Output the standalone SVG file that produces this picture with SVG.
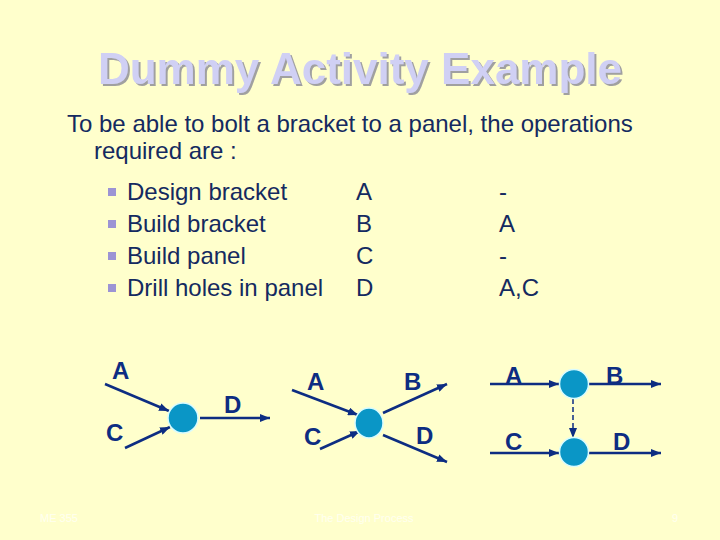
<svg xmlns="http://www.w3.org/2000/svg" width="720" height="540" viewBox="0 0 720 540">
<defs>
<marker id="ah" markerWidth="10" markerHeight="8" refX="10" refY="4" orient="auto" markerUnits="userSpaceOnUse"><path d="M0,0 L10,4 L0,8 Z" fill="#0d2d82"/></marker>
<filter id="sh" x="-5%" y="-20%" width="110%" height="140%"><feDropShadow dx="2" dy="2" stdDeviation="0.6" flood-color="#a0a0a0"/></filter>
<style>
.body{font-family:"Liberation Sans",Arial,sans-serif;font-size:24px;fill:#142a60}
.lbl{font-family:"Liberation Sans",Arial,sans-serif;font-size:24px;font-weight:bold;fill:#0d2d82}
.edge{stroke:#0d2d82;stroke-width:2.5;fill:none;marker-end:url(#ah)}
.dash{stroke:#0d2d82;stroke-width:1.5;stroke-dasharray:5,3;fill:none;marker-end:url(#ah)}
.node{fill:#0a96c6;stroke:#d8fbff;stroke-width:1.5}
.bul{fill:#9c94d4}
.foot{font-family:"Liberation Sans",Arial,sans-serif;font-size:11px;fill:#fffff0}
</style>
</defs>
<rect width="720" height="540" fill="#ffffcc"/>
<g id="title">
<text x="360" y="84" text-anchor="middle" font-family="Liberation Sans,Arial,sans-serif" font-size="44" font-weight="bold" fill="#d0d0f4" filter="url(#sh)">Dummy Activity Example</text>
</g>
<g id="intro">
<text class="body" x="67" y="132">To be able to bolt a bracket to a panel, the operations</text>
<text class="body" x="94" y="159">required are :</text>
</g>
<g id="table">
<rect class="bul" x="108" y="188" width="8" height="8"/>
<rect class="bul" x="108" y="220" width="8" height="8"/>
<rect class="bul" x="108" y="252" width="8" height="8"/>
<rect class="bul" x="108" y="284" width="8" height="8"/>
<text class="body" x="127" y="200">Design bracket</text>
<text class="body" x="127" y="232">Build bracket</text>
<text class="body" x="127" y="264">Build panel</text>
<text class="body" x="127" y="296">Drill holes in panel</text>
<text class="body" x="356" y="200">A</text>
<text class="body" x="356" y="232">B</text>
<text class="body" x="356" y="264">C</text>
<text class="body" x="356" y="296">D</text>
<text class="body" x="499" y="200">-</text>
<text class="body" x="499" y="232">A</text>
<text class="body" x="499" y="264">-</text>
<text class="body" x="499" y="296">A,C</text>
</g>
<g id="connectors">
<line class="edge" x1="105" y1="384" x2="169" y2="411"/>
<line class="edge" x1="125" y1="448" x2="170" y2="427"/>
<line class="edge" x1="200" y1="418" x2="270" y2="418"/>
<line class="edge" x1="292" y1="390" x2="358" y2="415"/>
<line class="edge" x1="320" y1="449" x2="360" y2="431"/>
<line class="edge" x1="383" y1="413" x2="447" y2="384"/>
<line class="edge" x1="383" y1="435" x2="447" y2="462"/>
<line class="edge" x1="490" y1="384" x2="559" y2="384"/>
<line class="edge" x1="589" y1="384" x2="661" y2="384"/>
<line class="edge" x1="490" y1="453" x2="559" y2="453"/>
<line class="edge" x1="589" y1="453" x2="661" y2="453"/>
<line class="dash" x1="573" y1="399" x2="573" y2="438"/>
</g>
<g id="labels">
<text class="lbl" x="112" y="379">A</text>
<text class="lbl" x="106" y="441">C</text>
<text class="lbl" x="224" y="413">D</text>
<text class="lbl" x="307" y="390">A</text>
<text class="lbl" x="304" y="445">C</text>
<text class="lbl" x="404" y="390">B</text>
<text class="lbl" x="416" y="444">D</text>
<text class="lbl" x="505" y="384">A</text>
<text class="lbl" x="606" y="384">B</text>
<text class="lbl" x="505" y="450">C</text>
<text class="lbl" x="613" y="450">D</text>
</g>
<g id="node1"><ellipse class="node" cx="183" cy="418" rx="15" ry="15"/></g>
<g id="node2"><ellipse class="node" cx="369" cy="423" rx="14" ry="15"/></g>
<g id="node3"><circle class="node" cx="574" cy="384" r="14.5"/></g>
<g id="node4"><circle class="node" cx="574" cy="452" r="14.5"/></g>
<g id="footer">
<text class="foot" x="40" y="522">ME 355</text>
<text class="foot" x="364" y="522" text-anchor="middle">The Design Process</text>
<text class="foot" x="672" y="522">9</text>
</g>
</svg>
